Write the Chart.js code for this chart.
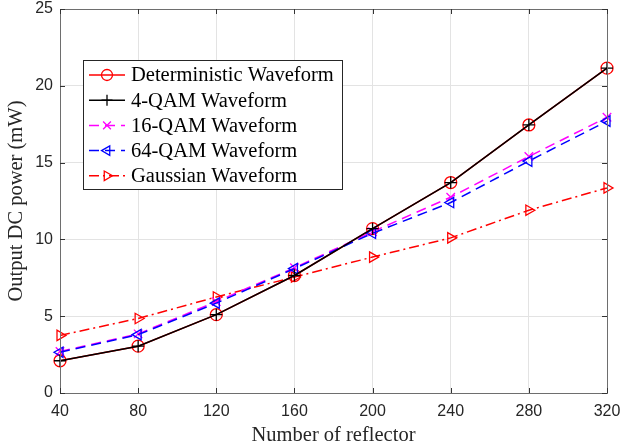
<!DOCTYPE html>
<html>
<head>
<meta charset="utf-8">
<script src="https://cdn.jsdelivr.net/npm/chart.js@4"></script>
<style>
  html, body { margin: 0; padding: 0; background: #fff; }
  #wrap { width: 621px; height: 448px; }
</style>
</head>
<body>
<div id="wrap"><canvas id="powerChart" width="621" height="448"></canvas></div>
<script>
// x axis: number of reflectors
const reflectors = [40, 80, 120, 160, 200, 240, 280, 320];
const xTicks = [40, 80, 120, 160, 200, 240, 280, 320];
const yTicks = [0, 5, 10, 15, 20, 25];

// output DC power (mW)
const deterministicPower = [2.1, 3.05, 5.1, 7.65, 10.7, 13.7, 17.45, 21.15];
const qam4Power = [2.1, 3.05, 5.1, 7.65, 10.7, 13.7, 17.45, 21.15];
const qam16Power = [2.7, 3.85, 5.95, 8.15, 10.5, 12.75, 15.4, 17.95];
const qam64Power = [2.65, 3.8, 5.85, 8.1, 10.4, 12.4, 15.1, 17.7];
const gaussianPower = [3.75, 4.85, 6.25, 7.55, 8.85, 10.1, 11.9, 13.35];

const seriesLabels = ['Deterministic Waveform', '4-QAM Waveform', '16-QAM Waveform', '64-QAM Waveform', 'Gaussian Waveform'];

const SERIF = '"Liberation Serif", "Times New Roman", serif';
const SANS = '"Liberation Sans", Arial, sans-serif';

function toPoints(vals) {
  return vals.map((v, i) => ({ x: reflectors[i], y: v }));
}

function makeSet(label, data, color, style, rot, dash, order) {
  return {
    label: label,
    data: toPoints(data),
    borderColor: color,
    backgroundColor: color,
    borderWidth: 1.5,
    borderDash: dash,
    pointStyle: style,
    pointRotation: rot,
    pointRadius: 6,
    pointBorderWidth: 1.3,
    pointBorderColor: color,
    pointBackgroundColor: 'rgba(0,0,0,0)',
    tension: 0,
    fill: false,
    clip: false,
    order: order
  };
}

// box, inside ticks and legend drawn like the MATLAB figure
const matlabFrame = {
  id: 'matlabFrame',
  afterDraw(chart) {
    const ctx = chart.ctx;
    const a = chart.chartArea;
    const xs = chart.scales.x, ys = chart.scales.y;
    ctx.save();
    ctx.strokeStyle = '#6e6e6e';
    ctx.lineWidth = 1;
    ctx.strokeRect(Math.round(a.left) + 0.5, Math.round(a.top) + 0.5, Math.round(a.right - a.left), Math.round(a.bottom - a.top));
    ctx.strokeStyle = '#333';
    ctx.beginPath();
    xTicks.forEach(t => {
      const px = Math.round(xs.getPixelForValue(t)) + 0.5;
      ctx.moveTo(px, a.bottom); ctx.lineTo(px, a.bottom - 5);
      ctx.moveTo(px, a.top); ctx.lineTo(px, a.top + 5);
    });
    yTicks.forEach(t => {
      const py = Math.round(ys.getPixelForValue(t)) + 0.5;
      ctx.moveTo(a.left, py); ctx.lineTo(a.left + 5, py);
      ctx.moveTo(a.right, py); ctx.lineTo(a.right - 5, py);
    });
    ctx.stroke();

    // legend
    const bx = 83, by = 60, bw = 259, bh = 129;
    ctx.fillStyle = '#fff';
    ctx.fillRect(bx, by, bw, bh);
    ctx.strokeStyle = '#262626';
    ctx.strokeRect(bx + 0.5, by + 0.5, bw, bh);
    ctx.font = '20.5px ' + SERIF;
    ctx.textBaseline = 'middle';
    chart.data.datasets.forEach((ds, i) => {
      const ly = by + 15 + i * 25.2;
      ctx.strokeStyle = ds.borderColor;
      ctx.lineWidth = 1.5;
      ctx.setLineDash(ds.borderDash || []);
      ctx.beginPath();
      ctx.moveTo(89, ly); ctx.lineTo(125, ly);
      ctx.stroke();
      ctx.setLineDash([]);
      ctx.lineWidth = 1.3;
      ctx.fillStyle = 'rgba(0,0,0,0)';
      Chart.helpers.drawPoint(ctx, {
        pointStyle: ds.pointStyle, rotation: ds.pointRotation, radius: 5.5, borderWidth: 1.3
      }, 107, ly);
      ctx.fillStyle = '#000';
      ctx.fillText(ds.label, 131, ly + 1);
    });
    ctx.restore();
  }
};

new Chart(document.getElementById('powerChart'), {
  type: 'line',
  data: {
    datasets: [
      makeSet(seriesLabels[0], deterministicPower, '#ff0000', 'circle', 0, [], 4),
      makeSet(seriesLabels[1], qam4Power, '#000000', 'cross', 0, [], 0),
      makeSet(seriesLabels[2], qam16Power, '#ff00ff', 'crossRot', 0, [10, 6], 2),
      makeSet(seriesLabels[3], qam64Power, '#0000ff', 'triangle', -90, [10, 6], 1),
      makeSet(seriesLabels[4], gaussianPower, '#ff0000', 'triangle', 90, [10, 4, 2, 4], 3)
    ]
  },
  options: {
    responsive: false,
    animation: false,
    devicePixelRatio: 1,
    layout: { padding: { top: 9, right: 14, left: 0, bottom: 0 } },
    plugins: { legend: { display: false }, tooltip: { enabled: false } },
    scales: {
      x: {
        type: 'linear',
        min: 40, max: 320,
        afterBuildTicks: s => { s.ticks = xTicks.map(v => ({ value: v })); },
        afterFit: s => { s.height = 55; s.paddingLeft = 0; s.paddingRight = 0; },
        grid: { color: '#e3e3e3', drawTicks: false, lineWidth: 1 },
        border: { display: false },
        ticks: { font: { family: SANS, size: 16 }, color: '#262626', padding: 9, maxRotation: 0 },
        title: { display: true, text: 'Number of reflector', font: { family: SERIF, size: 20.5 }, color: '#262626', padding: { top: 1, bottom: 0 } }
      },
      y: {
        min: 0, max: 25,
        afterBuildTicks: s => { s.ticks = yTicks.map(v => ({ value: v })); },
        afterFit: s => { s.width = 60; s.paddingTop = 0; s.paddingBottom = 0; },
        grid: { color: '#e3e3e3', drawTicks: false, lineWidth: 1 },
        border: { display: false },
        ticks: { font: { family: SANS, size: 16 }, color: '#262626', padding: 7 },
        title: { display: true, text: 'Output DC power (mW)', font: { family: SERIF, size: 20.5 }, color: '#262626', padding: { top: 4, bottom: 4 } }
      }
    }
  },
  plugins: [matlabFrame]
});
</script>
</body>
</html>
